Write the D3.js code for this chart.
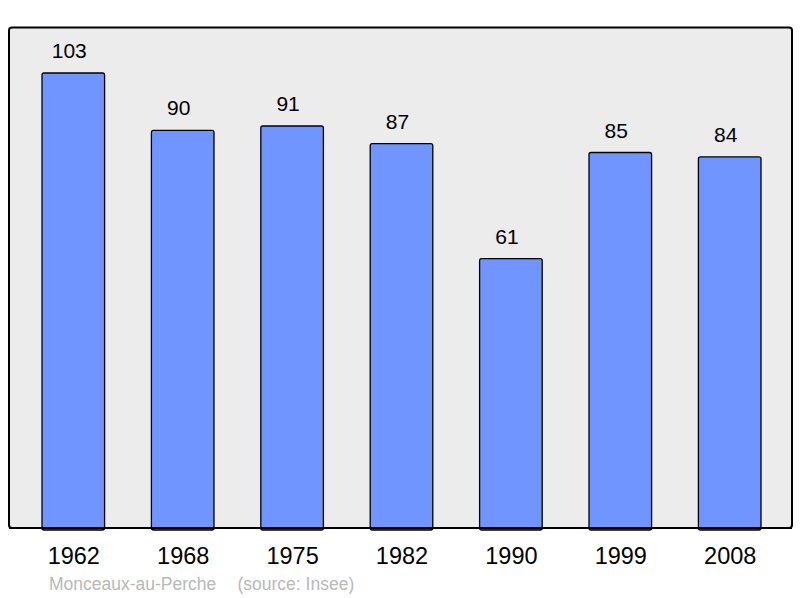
<!DOCTYPE html>
<html><head><meta charset="utf-8">
<script src="https://cdn.jsdelivr.net/npm/d3@7"></script>
<style>html,body{margin:0;padding:0;background:#fff;}svg{display:block;}</style>
</head><body>
<script>
const years = ["1962","1968","1975","1982","1990","1999","2008"];
const population = [103, 90, 91, 87, 61, 85, 84];
const placeName = "Monceaux-au-Perche";
const sourceText = "(source: Insee)";

const W = 800, H = 598;
const svg = d3.select("body").append("svg").attr("width", W).attr("height", H);
const frame = {x0: 9, y0: 27.5, x1: 792, y1: 528};

svg.append("rect")
  .attr("x", frame.x0).attr("y", frame.y0)
  .attr("width", frame.x1 - frame.x0).attr("height", frame.y1 - frame.y0)
  .attr("rx", 3).attr("ry", 3)
  .attr("fill", "#ececec").attr("stroke", "#000").attr("stroke-width", 2);

const x = d3.scaleBand().domain(years).range([18.6, 784.4]).paddingInner(0.428).paddingOuter(0.214);
const y = d3.scaleLinear().domain([0, d3.max(population) * 1.1]).range([frame.y1, frame.y0]);

const data = years.map((yr, i) => ({year: yr, value: population[i]}));

svg.append("g").selectAll("rect").data(data).join("rect")
  .attr("x", d => x(d.year)).attr("y", d => y(d.value))
  .attr("width", x.bandwidth()).attr("height", d => y(0) - y(d.value) + 2)
  .attr("rx", 2).attr("ry", 2)
  .attr("fill", "#7095ff").attr("stroke", "#000").attr("stroke-width", 1.3);

svg.append("line").attr("x1", frame.x0).attr("x2", frame.x1).attr("y1", frame.y1).attr("y2", frame.y1)
  .attr("stroke", "#000").attr("stroke-width", 2);

svg.append("g").selectAll("text").data(data).join("text")
  .attr("x", d => x(d.year) + x.bandwidth() / 2 - 4).attr("y", d => y(d.value) - 15)
  .attr("text-anchor", "middle")
  .attr("font-family", "Liberation Sans, Arial, sans-serif").attr("font-size", 21)
  .attr("fill", "#000").text(d => d.value);

const xAxis = d3.axisBottom(x).tickSize(0).tickPadding(0);
const gx = svg.append("g").attr("transform", `translate(0,${frame.y1})`).call(xAxis);
gx.select(".domain").remove();
gx.selectAll("text").attr("dy", null).attr("y", 36).attr("x", 0.5)
  .attr("font-family", "Liberation Sans, Arial, sans-serif").attr("font-size", 23.5).attr("fill", "#000");

svg.append("text").attr("x", 49).attr("y", 590)
  .attr("font-family", "Liberation Sans, Arial, sans-serif").attr("font-size", 17.5).attr("fill", "#b8b8b8")
  .text(placeName);
svg.append("text").attr("x", 237.5).attr("y", 590)
  .attr("font-family", "Liberation Sans, Arial, sans-serif").attr("font-size", 17.5).attr("fill", "#b8b8b8")
  .text(sourceText);
</script>
</body></html>
